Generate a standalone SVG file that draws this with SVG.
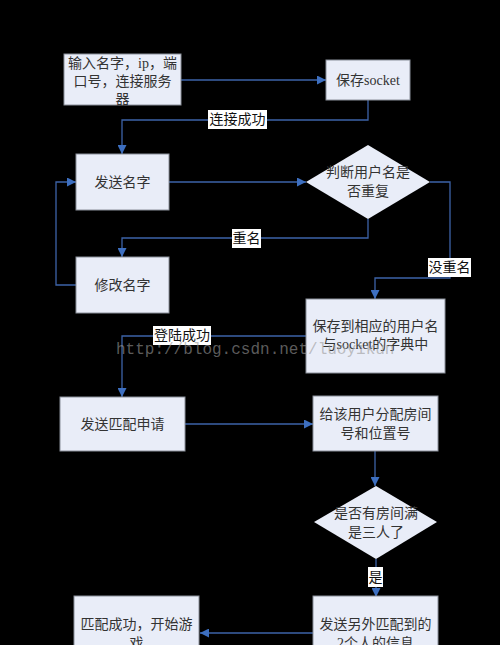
<svg xmlns="http://www.w3.org/2000/svg" width="500" height="645" viewBox="0 0 500 645">
<style>
.box{fill:#e9edf8;stroke:#8a8f9a;stroke-width:1}
.t{font-family:"Liberation Serif","Noto Sans CJK SC",serif;font-size:14px;fill:#333;text-anchor:middle;dominant-baseline:central}
.lbl{font-family:"Liberation Serif","Noto Sans CJK SC",serif;font-size:14px;fill:#111;text-anchor:middle;dominant-baseline:central}
.lb{fill:#fff}
.c{fill:none;stroke:#3d63a8;stroke-width:1.3}
.wm{font-family:"Liberation Mono",monospace;font-size:16px;fill:#9a9a9a;fill-opacity:0.6}
</style>
<defs>
<marker id="ah" viewBox="0 0 10 10" refX="10" refY="5" markerWidth="9" markerHeight="9" markerUnits="userSpaceOnUse" orient="auto">
<path d="M0,0 L10,5 L0,10 z" fill="#3d6fc0"/>
</marker>
</defs>
<rect width="500" height="645" fill="#000"/>
<g id="connectors">
<path class="c" d="M181,80 H326" marker-end="url(#ah)"/>
<path class="c" d="M368,100 V120 H122 V154" marker-end="url(#ah)"/>
<path class="c" d="M169,182 H306" marker-end="url(#ah)"/>
<path class="c" d="M368,219 V238 H122 V257" marker-end="url(#ah)"/>
<path class="c" d="M76,285 H56 V182 H76" marker-end="url(#ah)"/>
<path class="c" d="M430,182 H450 V278 H375 V299" marker-end="url(#ah)"/>
<path class="c" d="M306,336 H122 V397" marker-end="url(#ah)"/>
<path class="c" d="M185,424 H313" marker-end="url(#ah)"/>
<path class="c" d="M375,451 V486" marker-end="url(#ah)"/>
<path class="c" d="M376,559 V597" marker-end="url(#ah)"/>
<path class="c" d="M313,633 H200" marker-end="url(#ah)"/>
<rect class="lb" x="208" y="110" width="59" height="19"/>
<text class="lbl" x="237.5" y="119.5">连接成功</text>
<rect class="lb" x="232" y="229" width="29" height="19"/>
<text class="lbl" x="246.5" y="238.5">重名</text>
<rect class="lb" x="428" y="258" width="43" height="19"/>
<text class="lbl" x="449.5" y="267.5">没重名</text>
<rect class="lb" x="153" y="326" width="58" height="19"/>
<text class="lbl" x="182" y="335.5">登陆成功</text>
<rect class="lb" x="368" y="567" width="15" height="20"/>
<text class="lbl" x="375.5" y="577">是</text>
</g>
<g id="n1"><rect class="box" x="64" y="54" width="117" height="51"/>
<text class="t" x="122.5" y="63">输入名字，ip，端</text>
<text class="t" x="122.5" y="81">口号，连接服务</text>
<text class="t" x="122.5" y="99">器</text></g>
<g id="n2"><rect class="box" x="326" y="60" width="84" height="40"/>
<text class="t" x="368" y="80">保存socket</text></g>
<g id="n3"><rect class="box" x="76" y="154" width="93" height="56"/>
<text class="t" x="122.5" y="182">发送名字</text></g>
<g id="n4"><polygon class="box" points="368,145 430,182 368,219 306,182" style="stroke:none"/>
<text class="t" x="368" y="172">判断用户名是</text>
<text class="t" x="368" y="191">否重复</text></g>
<g id="n5"><rect class="box" x="76" y="257" width="93" height="56"/>
<text class="t" x="122.5" y="285">修改名字</text></g>
<g id="n6"><rect class="box" x="306" y="299" width="139" height="74"/>
<text class="t" x="375.5" y="326">保存到相应的用户名</text>
<text class="t" x="375.5" y="344">与socket的字典中</text></g>
<g id="n7"><rect class="box" x="60" y="397" width="125" height="54"/>
<text class="t" x="122.5" y="424">发送匹配申请</text></g>
<g id="n8"><rect class="box" x="313" y="396" width="125" height="55"/>
<text class="t" x="375.5" y="414">给该用户分配房间</text>
<text class="t" x="375.5" y="433">号和位置号</text></g>
<g id="n9"><polygon class="box" points="376,486 437,522 376,559 314,522" style="stroke:none"/>
<text class="t" x="376" y="513">是否有房间满</text>
<text class="t" x="376" y="532">是三人了</text></g>
<g id="n10"><rect class="box" x="313" y="596" width="125" height="60"/>
<text class="t" x="375.5" y="624">发送另外匹配到的</text>
<text class="t" x="375.5" y="643">2个人的信息</text></g>
<g id="n11"><rect class="box" x="74" y="596" width="125" height="60"/>
<text class="t" x="136.5" y="624">匹配成功，开始游</text>
<text class="t" x="136.5" y="643">戏</text></g>
<text class="wm" x="116" y="354">http://blog.csdn.net/luoyikun</text>
</svg>
